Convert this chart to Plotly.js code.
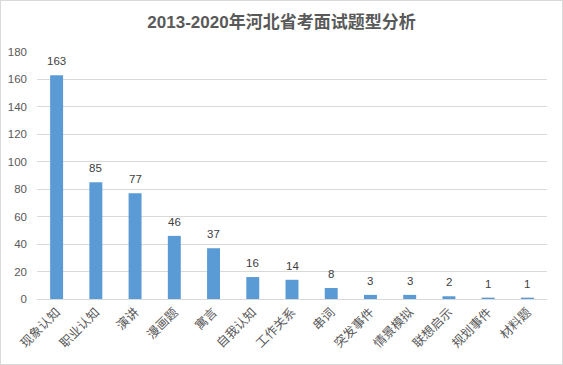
<!DOCTYPE html>
<html><head><meta charset="utf-8">
<script src="https://cdn.plot.ly/plotly-3.0.1.min.js"></script>
<style>body{margin:0;background:#fff}#c{width:563px;height:365px;position:relative}#b{position:absolute;left:0;top:0;width:561px;height:363px;border:1px solid #d9d9d9;pointer-events:none}</style>
</head><body><div style="position:relative"><div id="c"></div><div id="b"></div></div>
<script>
const categories = ["现象认知","职业认知","演讲","漫画题","寓言","自我认知","工作关系","串词","突发事件","情景模拟","联想启示","规划事件","材料题"];
const values = [163,85,77,46,37,16,14,8,3,3,2,1,1];
const yTicks = [0,20,40,60,80,100,120,140,160,180];
const titleText = "2013-2020年河北省考面试题型分析";
const fam = "'Liberation Sans', 'Noto Sans CJK SC', sans-serif";
const annotations = categories.map((c,i)=>({
  x:c, y:values[i], xref:'x', yref:'y', text:String(values[i]), showarrow:false,
  yshift:14, font:{size:11.5, color:'#404040', family:fam}
}));
Plotly.newPlot('c', [{
  type:'bar', x:categories, y:values,
  marker:{color:'#5b9bd5'}, hoverinfo:'none'
}], {
  width:563, height:365,
  margin:{l:37, r:16, t:52, b:66},
  paper_bgcolor:'#fff', plot_bgcolor:'#fff',
  bargap:0.67,
  annotations:annotations,
  title:{text:titleText, x:0.5, xanchor:'center', y:0.94, yanchor:'middle',
    font:{size:17, color:'#595959', family:fam, weight:'bold'}},
  xaxis:{tickangle:-45, tickfont:{size:12.5, color:'#595959', family:"'Noto Sans CJK SC', sans-serif"},
    showline:true, linecolor:'#d9d9d9', linewidth:1, ticks:'', showgrid:false, fixedrange:true},
  yaxis:{range:[0,180], tickvals:yTicks, ticktext:yTicks.map(String),
    tickfont:{size:11.5, color:'#595959', family:fam}, ticklabelstandoff:9,
    gridcolor:'#d9d9d9', showline:false, zeroline:false, ticks:'', fixedrange:true},
  showlegend:false
}, {staticPlot:true});
</script></body></html>
